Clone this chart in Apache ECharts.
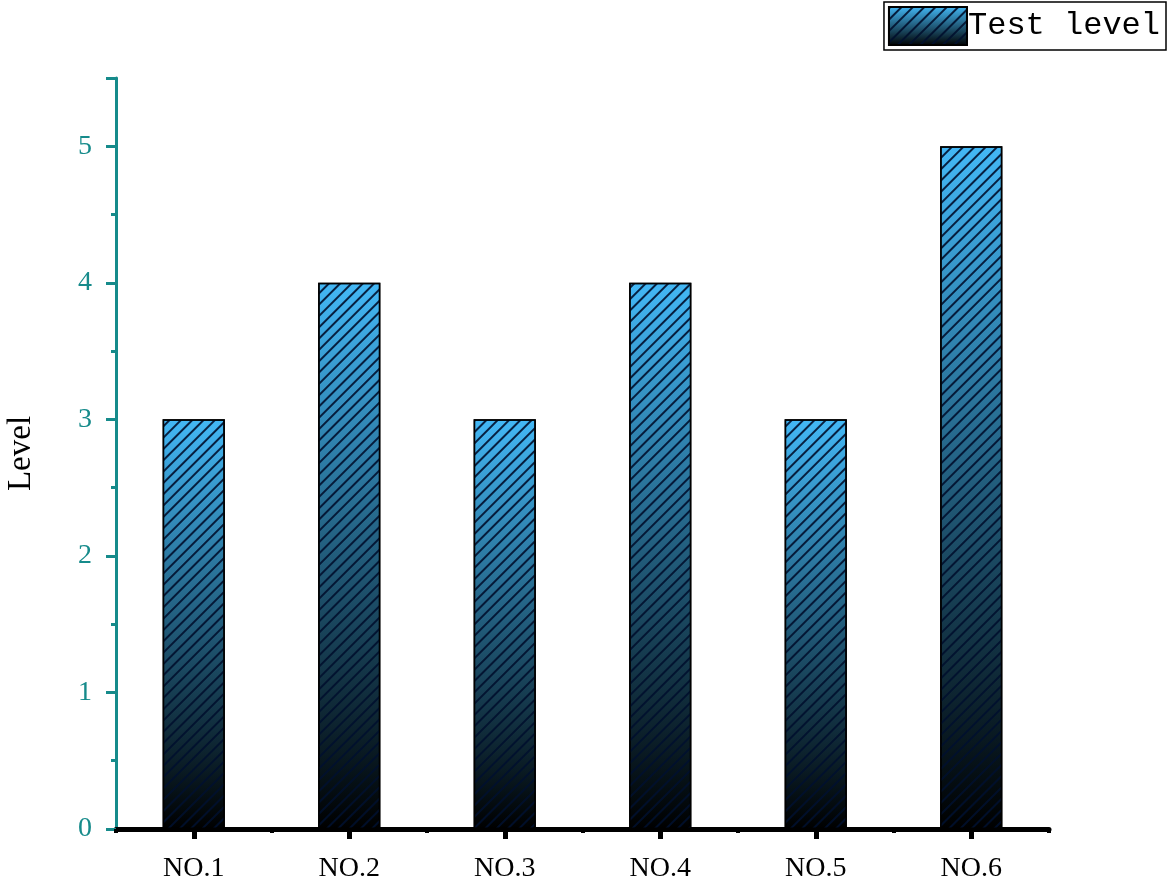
<!DOCTYPE html>
<html>
<head>
<meta charset="utf-8">
<script src="https://cdn.jsdelivr.net/npm/echarts@6/dist/echarts.min.js"></script>
<style>
html,body{margin:0;padding:0;background:#fff;}
#chart{width:1169px;height:881px;}
</style>
</head>
<body>
<div id="chart"></div>
<script>
const categories = ['NO.1', 'NO.2', 'NO.3', 'NO.4', 'NO.5', 'NO.6'];
const testLevel = [3, 4, 3, 4, 3, 5];
const seriesName = 'Test level';
const yAxisName = 'Level';

const chart = echarts.init(document.getElementById('chart'));
const teal = '#168b8b';
const serif = '"Liberation Serif", "DejaVu Serif", serif';

const barStyle = {
  color: new echarts.graphic.LinearGradient(0, 0, 0, 1, [
    { offset: 0, color: '#43b8f6' },
    { offset: 1, color: '#000000' }
  ]),
  borderColor: '#000',
  borderWidth: 1.5,
  decal: {
    symbol: 'rect',
    dashArrayX: [1, 0],
    dashArrayY: [1.2, 6],
    rotation: -Math.PI / 4,
    color: 'rgba(0,15,45,0.9)'
  }
};

chart.setOption({
  animation: false,
  legend: {
    right: 3,
    top: 2,
    data: [{ name: seriesName, icon: 'rect' }],
    itemWidth: 78,
    itemHeight: 38,
    itemGap: 0,
    padding: [4, 6, 4, 4],
    borderColor: '#000',
    borderWidth: 1.5,
    borderRadius: 0,
    textStyle: { fontFamily: '"Liberation Mono", monospace', fontSize: 32, color: '#000', padding: [0, 0, 0, -4] }
  },
  grid: { left: 116, right: 120, top: 78, bottom: 52, containLabel: false, outerBoundsMode: 'none' },
  xAxis: [{
    type: 'category',
    data: categories,
    axisLine: { show: true, lineStyle: { color: '#000', width: 5 } },
    axisTick: { show: true, alignWithLabel: true, length: 10, lineStyle: { color: '#000', width: 5 } },
    axisLabel: { color: '#000', fontFamily: serif, fontSize: 28, margin: 26 },
    splitLine: { show: false }
  }, {
    type: 'category',
    data: categories,
    position: 'bottom',
    axisLine: { show: false },
    axisTick: { show: true, alignWithLabel: false, length: 4, lineStyle: { color: '#000', width: 4 } },
    axisLabel: { show: false },
    splitLine: { show: false }
  }],
  yAxis: {
    type: 'value',
    min: 0,
    max: 5.5,
    interval: 1,
    name: yAxisName,
    nameLocation: 'middle',
    nameGap: 78,
    nameRotate: 90,
    nameTextStyle: { color: '#000', fontFamily: serif, fontSize: 33 },
    axisLine: { show: true, lineStyle: { color: teal, width: 3 } },
    axisTick: { show: true, length: 10, lineStyle: { color: teal, width: 3 } },
    minorTick: { show: true, splitNumber: 2, length: 5, lineStyle: { color: teal, width: 3 } },
    axisLabel: { color: teal, fontFamily: serif, fontSize: 28, margin: 24, showMaxLabel: false },
    splitLine: { show: false }
  },
  series: [{
    name: seriesName,
    type: 'bar',
    xAxisIndex: 0,
    data: testLevel,
    barWidth: '40%',
    itemStyle: barStyle
  }]
});
</script>
</body>
</html>
